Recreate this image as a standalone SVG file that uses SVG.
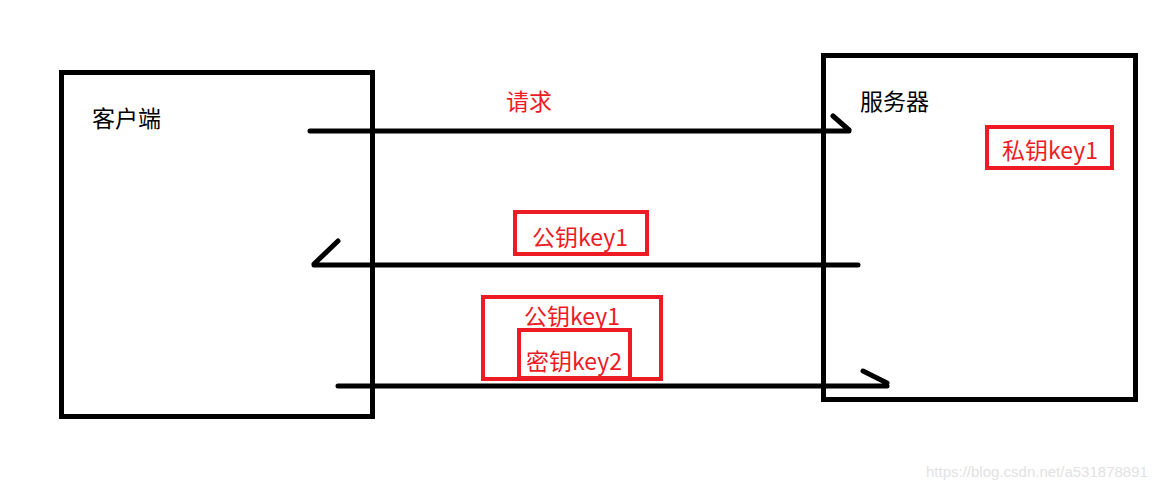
<svg xmlns="http://www.w3.org/2000/svg" width="1167" height="493" viewBox="0 0 1167 493">
<style>
.box{fill:none;stroke:#000;stroke-width:5}
.ln{fill:none;stroke:#000;stroke-width:5;stroke-linecap:round;stroke-linejoin:round}
.rb{fill:none;stroke:#ED1C24;stroke-width:4}
.bt{font-family:"Noto Sans CJK SC","Microsoft YaHei",sans-serif;font-size:23px;fill:#000}
.rt{font-family:"Noto Sans CJK SC","Microsoft YaHei",sans-serif;font-size:23px;fill:#ED1C24;text-anchor:middle}
.wm{font-family:"Liberation Sans",Arial,sans-serif;font-size:15px;fill:#e2e2e2}
</style>
<rect width="1167" height="493" fill="#fff"/>
<g id="client">
<rect class="box" x="61.5" y="72.5" width="311" height="344"/>
<text class="bt" x="92" y="127">客户端</text>
</g>
<g id="server">
<rect class="box" x="823.5" y="55.5" width="312" height="344"/>
<text class="bt" x="860" y="110">服务器</text>
<rect class="rb" x="987" y="127" width="125" height="41"/>
<text class="rt" x="1050" y="159">私钥key1</text>
</g>
<g id="connectors">
<path class="ln" d="M310,131 H849 M833,116 L849,130"/>
<path class="ln" d="M858,265 H314 M314,264 L338,241"/>
<path class="ln" d="M338,386 H887 M863,371 L887,383"/>
</g>
<g id="label-request">
<text class="rt" x="529" y="110">请求</text>
</g>
<g id="label-pubkey">
<rect class="rb" x="515" y="212" width="132" height="42"/>
<text class="rt" x="580" y="246">公钥key1</text>
</g>
<g id="label-keys">
<rect class="rb" x="483" y="297" width="178" height="82"/>
<text class="rt" x="572" y="325">公钥key1</text>
<rect class="rb" x="519" y="330" width="111" height="48"/>
<text class="rt" x="574" y="370">密钥key2</text>
</g>
<text class="wm" x="926" y="477">https://blog.csdn.net/a531878891</text>
</svg>
